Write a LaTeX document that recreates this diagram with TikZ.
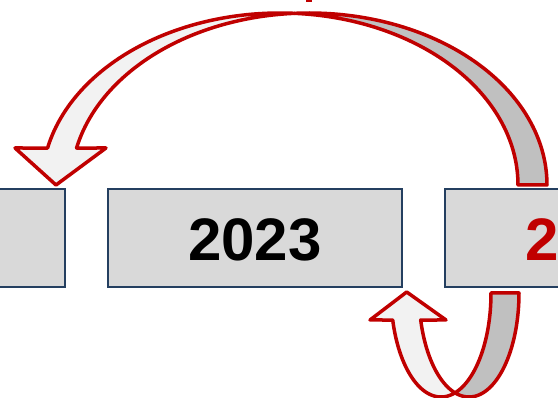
\documentclass[tikz,border=0pt]{standalone}
\usepackage{fontspec}
\setmainfont{Liberation Sans}
\definecolor{boxfill}{HTML}{D9D9D9}
\definecolor{boxline}{HTML}{243F60}
\definecolor{arrred}{HTML}{C00000}
\definecolor{lightfill}{HTML}{F2F2F2}
\definecolor{darkfill}{HTML}{C0C0C0}
\tikzset{
  yearbox/.style={draw=boxline, line width=2.5pt, fill=boxfill},
  bandline/.style={draw=arrred, line width=3.5pt, line join=round},
  yeartext/.style={inner sep=0pt, font=\bfseries\fontsize{60}{72}\selectfont},
}
\begin{document}
\begin{tikzpicture}[x=1pt,y=-1pt]
\useasboundingbox (0,0) rectangle (558,398);
% boxes
\draw[yearbox] (-10,189) rectangle (65,287);
\draw[yearbox] (108,189) rectangle (402,287);
\draw[yearbox] (445,189) rectangle (570,287);
\node[yeartext, text=black] (y2023) at (255,240) {2023};
\node[yeartext, text=arrred, anchor=west] (y2024) at (525,240) {2};
% small red mark at top (cut-off label)
\fill[arrred] (306,0) rectangle (311.5,2);
% top curved arrow: dark back band
\draw[bandline, fill=darkfill]
  plot[domain=0:93.49, samples=80, variable=\t] ({309+238*cos(360-\t)}, {185+172*sin(360-\t)})
  -- plot[domain=273.49:360, samples=80, variable=\t] ({280+238*cos(\t)}, {185+172*sin(\t)})
  -- cycle;
% top curved arrow: light front band with head
\draw[bandline, fill=lightfill]
  plot[domain=192.42:273.49, samples=80, variable=\t] ({280+238*cos(\t)}, {185+172*sin(\t)})
  -- plot[domain=0:74.09, samples=80, variable=\t] ({309+238*cos(266.51-\t)}, {185+172*sin(266.51-\t)})
  -- (106,148) -- (56,185) -- (15,148) -- cycle;
% bottom curved arrow: dark back band
\draw[bandline, fill=darkfill]
  plot[domain=0:106.26, samples=60, variable=\t] ({469+50*cos(\t)}, {293+104*sin(\t)})
  -- plot[domain=0:73.74, samples=60, variable=\t] ({441+50*cos(73.74-\t)}, {293+104*sin(73.74-\t)})
  -- cycle;
% bottom curved arrow: light front band with head
\draw[bandline, fill=lightfill]
  plot[domain=0:91.21, samples=60, variable=\t] ({441+50*cos(164.95-\t)}, {293+104*sin(164.95-\t)})
  -- plot[domain=106.26:164.95, samples=60, variable=\t] ({469+50*cos(\t)}, {293+104*sin(\t)})
  -- (446,320) -- (406.7,292) -- (370,320) -- cycle;
\end{tikzpicture}
\end{document}
